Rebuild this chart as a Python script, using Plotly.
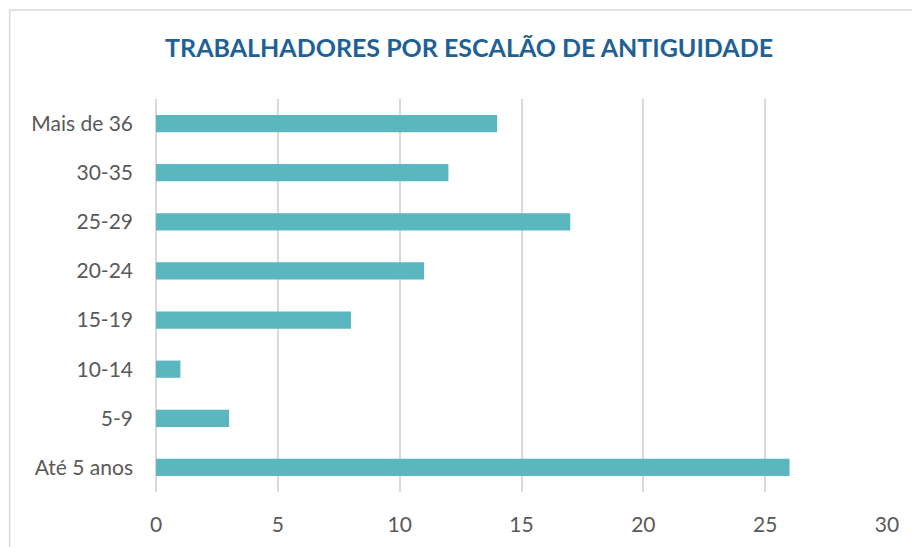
import plotly.graph_objects as go

categories = ["Até 5 anos", "5-9", "10-14", "15-19", "20-24", "25-29", "30-35", "Mais de 36"]
values = [26, 3, 1, 8, 11, 17, 12, 14]
x_ticks = [0, 5, 10, 15, 20, 25, 30]

title_text = "TRABALHADORES POR ESCALÃO DE ANTIGUIDADE"
bar_color = "#5AB6BF"
text_color = "#595959"
grid_color = "#D9D9D9"
font_family = "Lato, Carlito, Calibri, sans-serif"

OFF = 8  # page body margin
W, H = 920 - OFF, 547 - OFF
ml, mr, mt, mb = 155.5 - OFF, 32.5, 99 - OFF, 55
pw = W - ml - mr
ph = H - mt - mb

fig = go.Figure(go.Bar(
    y=categories, x=values, orientation="h",
    marker=dict(color=bar_color, line=dict(width=0)),
    width=0.35,
))

def px_to_paper_x(px):
    return (px - OFF - ml) / pw

def px_to_paper_y(py):
    return 1 - (py - OFF - mt) / ph

fig.update_layout(
    width=W, height=H,
    margin=dict(l=ml, r=mr, t=mt, b=mb),
    paper_bgcolor="white", plot_bgcolor="white",
    showlegend=False,
    font=dict(family=font_family, color=text_color, size=21),
    title=dict(
        text="<b>" + title_text + "</b>",
        font=dict(family=font_family, size=25, color="#1F6196"),
        x=px_to_paper_x(469), xref="paper", xanchor="center",
        y=1 - (48 - OFF) / H, yref="container", yanchor="middle",
    ),
    xaxis=dict(
        range=[0, 30], tickvals=x_ticks, showgrid=True, gridcolor=grid_color, gridwidth=1.5,
        zeroline=True, zerolinecolor=grid_color, zerolinewidth=1.5,
        showline=False, ticks="", ticklabelstandoff=18,
        tickfont=dict(size=21, color=text_color),
    ),
    yaxis=dict(
        showgrid=False, zeroline=False, showline=False, ticks="",
        ticklabelstandoff=22, tickfont=dict(size=21, color=text_color),
        range=[-0.5, 7.5],
    ),
    shapes=[dict(
        type="rect", xref="paper", yref="paper",
        x0=px_to_paper_x(9), x1=px_to_paper_x(960),
        y0=px_to_paper_y(600), y1=px_to_paper_y(10),
        line=dict(color=grid_color, width=1.5), fillcolor="rgba(0,0,0,0)", layer="below",
    )],
)

fig.write_html("out.html")
